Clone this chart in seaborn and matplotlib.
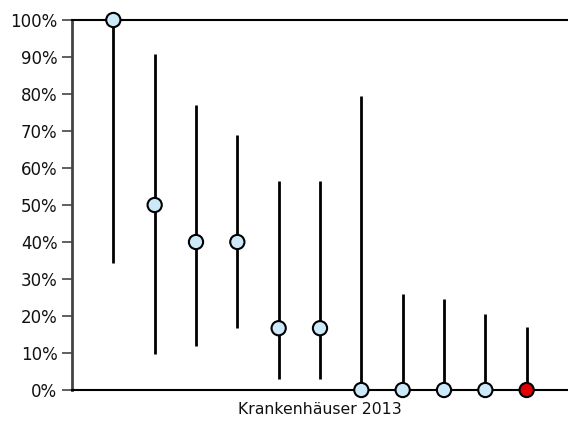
import seaborn as sns
import matplotlib.pyplot as plt
import pandas as pd

# values in percent
hospitals = [1, 2, 3, 4, 5, 6, 7, 8, 9, 10, 11]
rate = [100, 50, 40, 40, 16.7, 16.7, 0, 0, 0, 0, 0]
lower = [34.3, 9.7, 11.9, 16.8, 3.0, 3.0, 0, 0, 0, 0, 0]
upper = [100, 90.8, 77.0, 68.9, 56.5, 56.5, 79.5, 26.0, 24.6, 20.5, 17.0]
group = ['other'] * 10 + ['own']

data = pd.DataFrame({'hospital': hospitals, 'rate': rate,
                     'lower': lower, 'upper': upper, 'group': group})

sns.set_style('white')
plt.rcParams['font.family'] = ['DejaVu Sans']

fig = plt.figure(figsize=(5.68, 4.21), dpi=100)
ax = fig.add_axes([72 / 568, 1 - 390 / 421, 1 - 72 / 568, 370 / 421])

# confidence intervals
ax.vlines(data['hospital'], data['lower'], data['upper'],
          color='black', linewidth=2, zorder=2)

sns.scatterplot(data=data, x='hospital', y='rate', hue='group',
                palette={'other': '#cce9f9', 'own': '#e00000'},
                s=105, edgecolor='black', linewidth=1.5,
                legend=False, zorder=3, clip_on=False, ax=ax)

ax.set_xlim(0, 12)
ax.set_ylim(0, 100)
ax.set_yticks(range(0, 101, 10))
ax.set_yticklabels([f'{v}%' for v in range(0, 101, 10)], fontsize=12, color='#111111')
ax.set_xticks([])
ax.set_xlabel('Krankenhäuser 2013', fontsize=11.3, color='#111111', labelpad=9)
ax.set_ylabel('')

ax.tick_params(axis='y', left=True, length=7.5, width=1.2, color='#444444', pad=3)
ax.spines['right'].set_visible(False)
ax.spines['left'].set_color('#444444')
ax.spines['left'].set_linewidth(2)
ax.spines['top'].set_color('black')
ax.spines['top'].set_linewidth(1.5)
ax.spines['bottom'].set_color('black')
ax.spines['bottom'].set_linewidth(1.5)

fig.savefig('out.png', dpi=100)
